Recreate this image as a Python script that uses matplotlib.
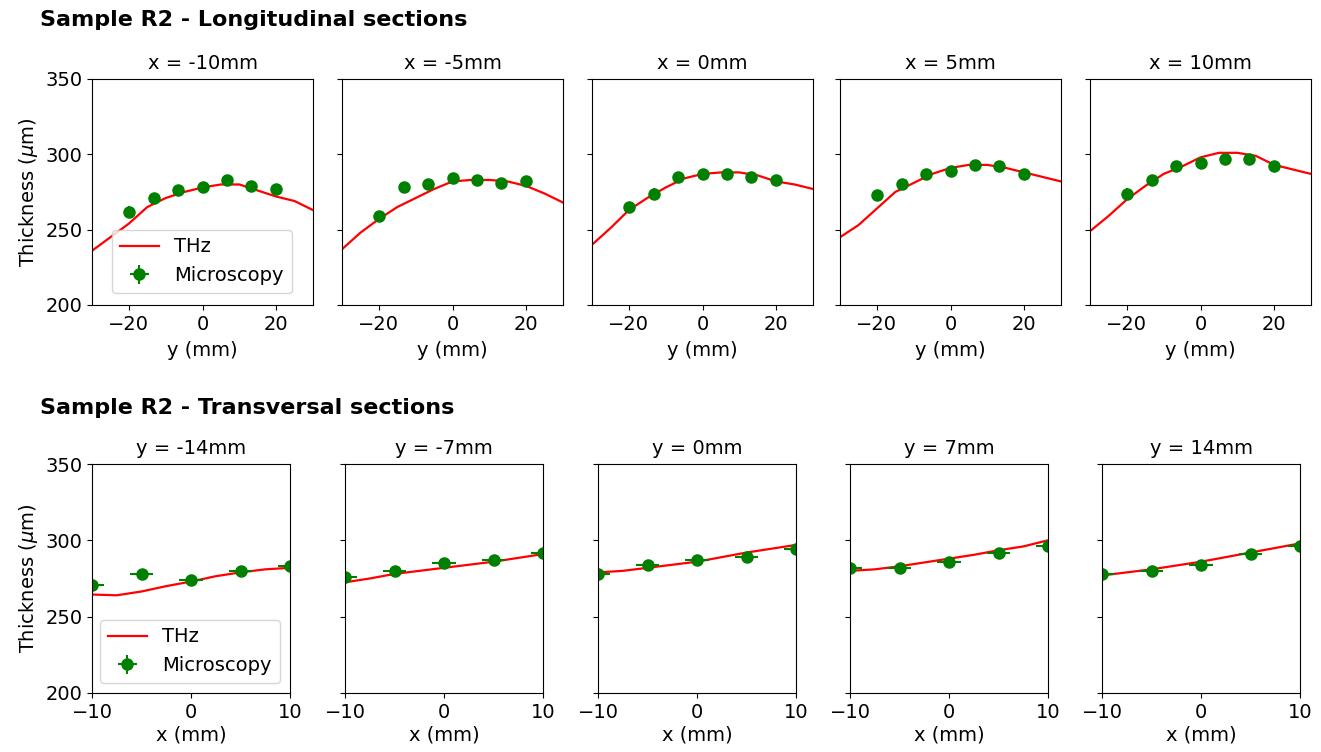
import numpy as np
import matplotlib
matplotlib.use("Agg")
import matplotlib.pyplot as plt

plt.rcParams['font.size'] = 14

# longitudinal sections (top row)
long_titles = ["x = -10mm", "x = -5mm", "x = 0mm", "x = 5mm", "x = 10mm"]
long_pos = [-20, -13.3, -6.7, 0, 6.7, 13.3, 20]
long_micro = [
    [262, 271, 276, 278, 283, 279, 277],
    [259, 278, 280, 284, 283, 281, 282],
    [265, 274, 285, 287, 287, 285, 283],
    [273, 280, 287, 289, 293, 292, 287],
    [274, 283, 292, 294, 297, 297, 292],
]
long_thz_pos = [-30, -25, -20, -15, -10, -5, 0, 5, 10, 15, 20, 25, 30]
long_thz = [
    [236, 245, 254, 265, 271, 275, 278, 280, 280, 276, 272, 269, 263],
    [237, 248, 257, 265, 271, 277, 282, 283, 283, 282, 279, 274, 268],
    [240, 251, 263, 271, 278, 284, 287, 288, 288, 286, 282, 280, 277],
    [245, 253, 264, 275, 281, 287, 291, 293, 293, 291, 288, 285, 282],
    [249, 259, 270, 279, 287, 292, 298, 301, 301, 299, 293, 290, 287],
]

# transversal sections (bottom row)
trans_titles = ["y = -14mm", "y = -7mm", "y = 0mm", "y = 7mm", "y = 14mm"]
trans_pos = [-10, -5, 0, 5, 10]
trans_micro = [
    [271, 278, 274, 280, 283],
    [276, 280, 285, 287, 292],
    [278, 284, 287, 289, 294],
    [282, 282, 286, 292, 296],
    [278, 280, 284, 291, 296],
]
trans_thz_pos = [-10, -7.5, -5, -2.5, 0, 2.5, 5, 7.5, 10]
trans_thz = [
    [264.5, 264, 266.5, 270, 273, 276.5, 279, 281, 282],
    [272.5, 275, 278, 280, 282, 284, 286, 288.5, 291],
    [279, 280, 282, 284, 286, 289, 292, 294.5, 297],
    [280, 281, 283, 285.5, 288, 290.5, 293.5, 296, 300],
    [277, 279, 281, 283.5, 286, 289, 292, 295, 298],
]

W, H = 1321, 752
fig = plt.figure(figsize=(W / 100, H / 100), dpi=100)

top_left = [92, 342, 592, 840, 1090]
bot_left = [92, 345, 598, 850, 1102]


def panel(left, top, w, h, title):
    ax = fig.add_axes([left / W, 1 - (top + h) / H, w / W, h / H])
    ax.set_title(title, fontsize=14, pad=7)
    ax.set_ylim(200, 350)
    ax.set_yticks([200, 250, 300, 350])
    ax.tick_params(labelsize=14)
    return ax


fig.text(40 / W, 1 - 20 / H, "Sample R2 - Longitudinal sections",
         fontsize=16, fontweight='bold', va='center', ha='left')
fig.text(40 / W, 1 - 408 / H, "Sample R2 - Transversal sections",
         fontsize=16, fontweight='bold', va='center', ha='left')

for i in range(5):
    ax = panel(top_left[i], 79, 221, 226, long_titles[i])
    ax.plot(long_thz_pos, long_thz[i], color='red', lw=1.6, label='THz')
    ax.errorbar(long_pos, long_micro[i], yerr=3.5, xerr=0.5, fmt='o',
                color='green', ms=8, elinewidth=1.5, label='Microscopy')
    ax.set_xlim(-30, 30)
    ax.set_xticks([-20, 0, 20])
    ax.set_xlabel("y (mm)", fontsize=14, labelpad=5)
    if i == 0:
        ax.set_ylabel(r"Thickness ($\mu$m)", fontsize=14)
        ax.legend(loc='lower left', fontsize=14, borderaxespad=0,
                  bbox_to_anchor=(20 / 221, 12 / 226))
    else:
        ax.set_yticklabels([])

for i in range(5):
    ax = panel(bot_left[i], 464, 198, 229, trans_titles[i])
    ax.plot(trans_thz_pos, trans_thz[i], color='red', lw=1.6, label='THz')
    ax.errorbar(trans_pos, trans_micro[i], yerr=3, xerr=1.2, fmt='o',
                color='green', ms=8, elinewidth=1.5, label='Microscopy')
    ax.set_xlim(-10, 10)
    ax.set_xticks([-10, 0, 10])
    ax.set_xlabel("x (mm)", fontsize=14, labelpad=3)
    if i == 0:
        ax.set_ylabel(r"Thickness ($\mu$m)", fontsize=14)
        ax.legend(loc='lower left', fontsize=14, borderaxespad=0,
                  bbox_to_anchor=(8 / 198, 10 / 229))
    else:
        ax.set_yticklabels([])

fig.savefig("out.png", dpi=100)
